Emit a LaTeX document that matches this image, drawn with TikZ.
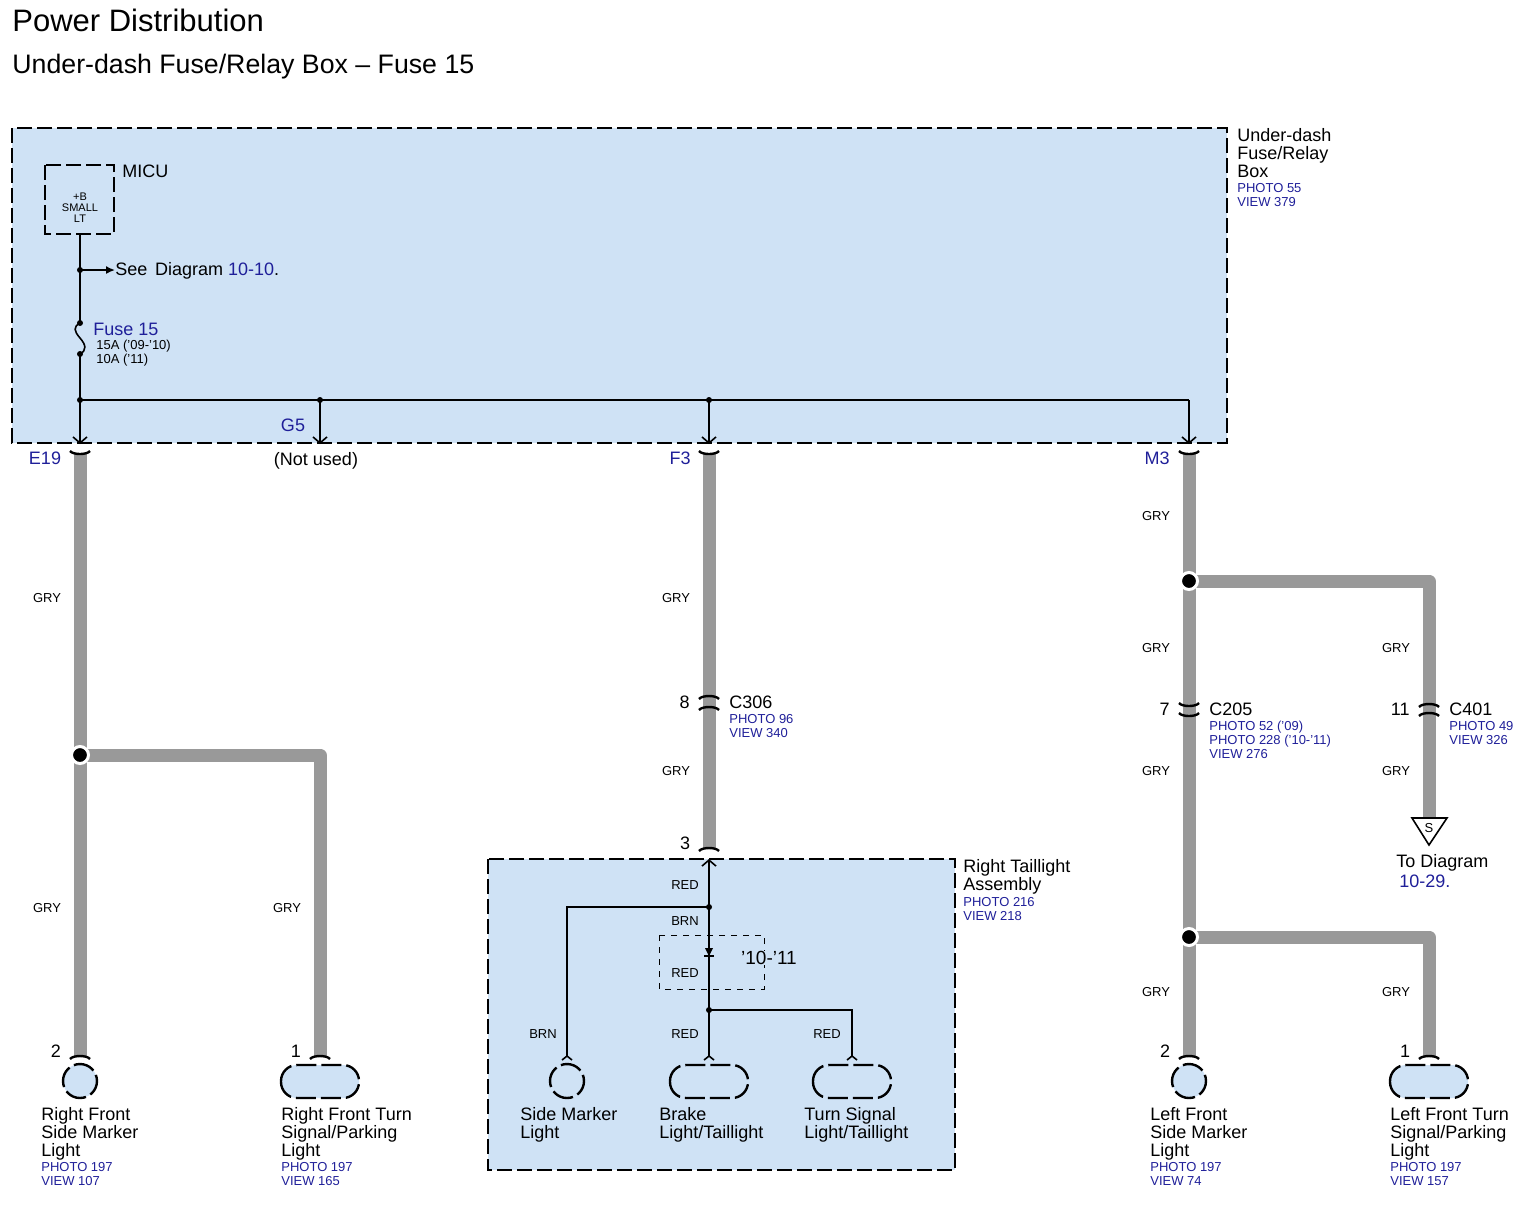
\documentclass[tikz,border=0pt]{standalone}
\usepackage{fontspec}
\setmainfont{Liberation Sans}
\usetikzlibrary{arrows.meta}
\definecolor{boxfill}{HTML}{CFE2F5}
\definecolor{wiregray}{HTML}{999999}
\definecolor{refblue}{HTML}{1F1F99}
\tikzset{
    unitbox/.style={draw=black, fill=boxfill, line width=1.4pt, dash pattern=on 7.5pt off 2.5pt},
    thinwire/.style={line width=.8pt},
    harness/.style={line width=6.5pt, color=wiregray, line join=round},
    joint/.style={circle, fill=black, inner sep=0pt, minimum size=3pt},
    bigjoint/.style={circle, fill=black, draw=white, line width=1.5pt, inner sep=0pt, minimum size=8.5pt},
    pinend/.style={-{Straight Barb[length=3pt,width=7pt,line width=.8pt]}},
    partname/.style={font=\fontsize{9}{9}\selectfont, anchor=north west, align=left, inner sep=0pt, yshift=-1pt},
    biglabel/.style={font=\fontsize{9}{9}\selectfont, inner sep=0pt},
    viewlabel/.style={font=\fontsize{6.5}{7}\selectfont, anchor=north west, align=left, inner sep=0pt, text=refblue, yshift=-1pt},
    tinylabel/.style={font=\fontsize{6.5}{7}\selectfont, inner sep=0pt, yshift=-.5pt},
    lampdot/.style={draw=black, fill=boxfill, line width=1.2pt, dash pattern=on 10.8pt off 2.5pt, dash phase=3pt},
    lampbar/.style={draw=black, fill=boxfill, line width=1.2pt, dash pattern=on 10pt off 2.5pt, rounded corners=8pt},
    socket/.style={line width=1.2pt},
}
\newcommand{\plugtop}[1]{\draw[socket](#1)++(-10,2)..controls +(3,-4) and +(-3,-4)..+(20,0);}
\newcommand{\plugbot}[1]{\draw[socket](#1)++(-10,-2)..controls +(3,4) and +(-3,4)..+(20,0);}
\begin{document}
\begin{tikzpicture}[x=.5pt, y=-.5pt]
\useasboundingbox (0,0) rectangle (1536,1207);
\node[anchor=west, inner sep=0pt, font=\fontsize{15.5}{16}\selectfont] (title) at (12,20) {Power Distribution};
\node[anchor=west, inner sep=0pt, font=\fontsize{13.36}{14}\selectfont] (subtitle) at (12,67) {Under-dash Fuse/Relay Box -- Fuse 15};
\filldraw[unitbox] (12,128) rectangle (1227,443);
\filldraw[unitbox] (488,859) rectangle (955,1170);
\draw[line width=1.4pt, dash pattern=on 7.5pt off 2.5pt] (45,165) rectangle (114,234);
\node[tinylabel, align=center, font=\fontsize{5.5}{5.5}\selectfont] (micu) at (80,207) {+B\\SMALL\\LT};
\node[biglabel, anchor=west] (micuname) at (122,171) {MICU};
\coordinate (micubot) at (80,234);
\coordinate (seejoint) at (80,270);
\coordinate (seetip) at (115,270);
\coordinate (fusetop) at (80,323);
\coordinate (fusemid) at (80,338);
\coordinate (fusebot) at (80,354);
\coordinate (busleft) at (80,400);
\coordinate (busg) at (320,400);
\coordinate (busf) at (709,400);
\coordinate (busm) at (1189,400);
\coordinate (pine) at (80,444);
\coordinate (ping) at (320,444);
\coordinate (pinf) at (709,444);
\coordinate (pinm) at (1189,444);
\node[biglabel, anchor=west] (see) at (115,271) {See\hspace{.15em} Diagram \textcolor{refblue}{10-10}.};
\draw[thinwire] (micubot)--(fusetop);
\draw[thinwire] (fusetop)..controls +(-7,4) and +(-6,-7)..(fusemid)..controls +(6,7) and +(7,-4)..(fusebot);
\draw[thinwire] (fusebot)--(busleft)--(busm);
\draw[thinwire, -{Latex[length=4.5pt,width=4pt]}] (seejoint)--(seetip);
\foreach \p in {pine,ping,pinf,pinm}
{
    \path (\p) +(0,-44) coordinate (\p up);
    \draw[thinwire, pinend] (\p up)--(\p);
}
\foreach \p in {seejoint,fusetop,fusebot,busleft,busg,busf}
{
    \node[joint] (\p dot) at (\p) {};
}
\node[biglabel, text=refblue, anchor=west] (fuselabel) at (93,329) {Fuse 15};
\node[tinylabel, anchor=west] (fuseone) at (96,345) {15A ('09-'10)};
\node[tinylabel, anchor=west] (fusetwo) at (96,359) {10A ('11)};
\node[biglabel, text=refblue] (g5) at (293,425) {G5};
\node[biglabel] (notused) at (316,461) {(Not used)};
\node[partname] (boxname) at (1237,126) {Under-dash\\Fuse/Relay\\Box};
\node[viewlabel] (boxview) at (1237,181) {PHOTO 55\\VIEW 379};
\node[biglabel, text=refblue] (e19) at (45,458) {E19};
\node[biglabel, text=refblue] (f3) at (680,458) {F3};
\node[biglabel, text=refblue] (m3) at (1157,458) {M3};
\coordinate (etop) at (80,453);
\coordinate (ejoint) at (80,755);
\coordinate (ebot) at (80,1057);
\coordinate (ecorner) at (320,755);
\coordinate (ebot2) at (320,1057);
\coordinate (ftop) at (709,453);
\coordinate (fbot) at (709,849);
\coordinate (mtop) at (1189,453);
\coordinate (mjoint) at (1189,581);
\coordinate (mjoint2) at (1189,937);
\coordinate (mbot) at (1189,1057);
\coordinate (scorner) at (1429,581);
\coordinate (sbot) at (1429,818);
\coordinate (lcorner) at (1429,937);
\coordinate (lbot) at (1429,1057);
\draw[harness] (etop)--(ebot);
\draw[harness] (ejoint)--(ecorner)--(ebot2);
\draw[harness] (ftop)--(fbot);
\draw[harness] (mtop)--(mbot);
\draw[harness] (mjoint)--(scorner)--(sbot);
\draw[harness] (mjoint2)--(lcorner)--(lbot);
\foreach \p in {ejoint,mjoint,mjoint2}
{
    \node[bigjoint] (\p dot) at (\p) {};
}
\foreach \x/\y in {47/597,287/907,47/907,676/597,676/770,1156/515,1156/647,1156/770,1396/647,1396/770,1156/991,1396/991}
{
    \node[tinylabel] (gry\x-\y) at (\x,\y) {GRY};
}
\foreach \x/\y/\wirecol in {685/884/RED,685/920/BRN,685/972/RED,543/1033/BRN,685/1033/RED,827/1033/RED}
{
    \node[tinylabel] (col\x-\y) at (\x,\y) {\wirecol};
}
\foreach \p in {etop,ftop,mtop}
{
    \plugbot{\p}
}
\foreach \p/\pinno/\q in {ebot/2/56,ebot2/1/296,mbot/2/1165,lbot/1/1405}
{
    \plugtop{\p}
    \node[biglabel] (\p no) at (\q,1051) {\pinno};
}
\plugtop{fbot}
\node[biglabel] (three) at (685,843) {3};
\foreach \x/\pinno/\conn/\y/\one/\two in {709/8/C306/702/-5/6,1429/11/C401/709/-4/5}
{
    \coordinate (upper) at (\x,\y+\one);
    \coordinate (lower) at (\x,\y+\two);
    \plugtop{upper}
    \plugtop{lower}
    \node[biglabel, anchor=east] (\conn no) at (\x-19,\y) {\pinno};
    \node[biglabel, anchor=west] (\conn) at (\x+20,\y) {\conn};
}
\coordinate (upper) at (1189,705);
\coordinate (lower) at (1189,715);
\plugbot{upper}
\plugbot{lower}
\node[biglabel, anchor=east] (C205no) at (1170,709) {7};
\node[biglabel, anchor=west] (C205) at (1209,709) {C205};
\node[viewlabel] (c306view) at (729,712) {PHOTO 96\\VIEW 340};
\node[viewlabel] (c205view) at (1209,719) {PHOTO 52 ('09)\\PHOTO 228 ('10-'11)\\VIEW 276};
\node[viewlabel] (c401view) at (1449,719) {PHOTO 49\\VIEW 326};
\filldraw[thinwire, fill=white] (1412,818)--(1447,818)--(1429,845)--cycle;
\node[tinylabel] (sletter) at (1429,827) {S};
\node[partname] (todiag) at (1396,852) {To Diagram\\[1pt]\textcolor{refblue}{\,10-29.}};
\node[partname] (tailname) at (963,857) {Right Taillight\\Assembly};
\node[viewlabel] (tailview) at (963,895) {PHOTO 216\\VIEW 218};
\coordinate (tailpin) at (709,859);
\coordinate (tailjoint) at (709,907);
\coordinate (tailjoint2) at (709,1010);
\coordinate (sideup) at (567,907);
\coordinate (sidepin) at (567,1056);
\coordinate (brakepin) at (709,1056);
\coordinate (turnup) at (852,1010);
\coordinate (turnpin) at (852,1056);
\draw[thinwire, pinend] (tailjoint)--(tailpin);
\draw[thinwire] (tailjoint)--(sideup)--(sidepin);
\draw[thinwire] (tailjoint)--(tailjoint2);
\draw[thinwire] (tailjoint2)--(turnup)--(turnpin);
\draw[thinwire] (tailjoint2)--(brakepin);
\foreach \p in {sidepin,brakepin,turnpin}
{
    \draw[thinwire] (\p)++(-5,4)--(\p)--++(5,4);
}
\node[joint] (tailjointdot) at (tailjoint) {};
\node[joint] (tailjointdot2) at (tailjoint2) {};
\fill (705,948)--(713,948)--(709,956)--cycle;
\draw[thinwire] (704,956)--(714,956);
\draw[dash pattern=on 3pt off 3pt, line width=.5pt] (659,935) rectangle (764,989);
\node[biglabel, fill=boxfill, font=\fontsize{9.5}{10}\selectfont] (years) at (769,958) {'10-'11};
\foreach \x in {80,567,1189}
{
    \filldraw[lampdot] (\x,1081) circle[radius=17];
}
\foreach \x in {320,709,852,1429}
{
    \filldraw[lampbar] (\x-39,1065) rectangle (\x+39,1098);
}
\node[partname] (rfsname) at (41,1105) {Right Front\\Side Marker\\Light};
\node[viewlabel] (rfsview) at (41,1160) {PHOTO 197\\VIEW 107};
\node[partname] (rftname) at (281,1105) {Right Front Turn\\Signal/Parking\\Light};
\node[viewlabel] (rftview) at (281,1160) {PHOTO 197\\VIEW 165};
\node[partname] (sidename) at (520,1105) {Side Marker\\Light};
\node[partname] (brakename) at (659,1105) {Brake\\Light/Taillight};
\node[partname] (turnname) at (804,1105) {Turn Signal\\Light/Taillight};
\node[partname] (lfsname) at (1150,1105) {Left Front\\Side Marker\\Light};
\node[viewlabel] (lfsview) at (1150,1160) {PHOTO 197\\VIEW 74};
\node[partname] (lftname) at (1390,1105) {Left Front Turn\\Signal/Parking\\Light};
\node[viewlabel] (lftview) at (1390,1160) {PHOTO 197\\VIEW 157};
\end{tikzpicture}
\end{document}
